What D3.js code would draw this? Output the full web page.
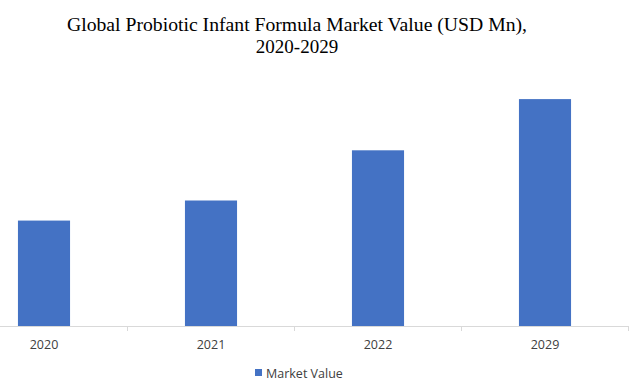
<!DOCTYPE html>
<html>
<head>
<meta charset="utf-8">
<script src="https://cdn.jsdelivr.net/npm/d3@7"></script>
<style>
  html, body { margin: 0; padding: 0; background: #ffffff; }
  svg { display: block; }
</style>
</head>
<body>
<svg id="chart" width="642" height="390"></svg>
<script>
const titleLines = ["Global Probiotic Infant Formula Market Value (USD Mn),", "2020-2029"];
const categories = ["2020", "2021", "2022", "2029"];
const seriesName = "Market Value";
const values = [105, 125, 175, 226];

const W = 642, H = 390;
const svg = d3.select("#chart");
const barColor = "#4472C4";
const textColor = "#404040";

// Title
svg.append("text")
  .attr("x", 297).attr("y", 31)
  .attr("text-anchor", "middle")
  .attr("font-family", "'Liberation Serif', 'DejaVu Serif', serif")
  .attr("font-size", 19)
  .attr("fill", "#000")
  .attr("textLength", 460)
  .attr("lengthAdjust", "spacingAndGlyphs")
  .text(titleLines[0]);
svg.append("text")
  .attr("x", 297).attr("y", 53)
  .attr("text-anchor", "middle")
  .attr("font-family", "'Liberation Serif', 'DejaVu Serif', serif")
  .attr("font-size", 19)
  .attr("fill", "#000")
  .text(titleLines[1]);

// Scales
const x0 = -39.5, x1 = 628.5;
const xStep = d3.scaleBand().domain(categories).range([x0, x1]).padding(0);
const xBar = d3.scaleBand().domain(categories).range([x0, x1])
  .paddingInner(0.688).paddingOuter(0.344);
const baseY = 326;
const y = d3.scaleLinear().domain([0, 250]).range([baseY, 75]);

// Bars
svg.append("g").selectAll("rect")
  .data(values)
  .join("rect")
  .attr("x", (d, i) => xBar(categories[i]))
  .attr("width", xBar.bandwidth())
  .attr("y", d => y(d))
  .attr("height", d => baseY - y(d))
  .attr("fill", barColor);

// Axis line and ticks
const axisG = svg.append("g");
axisG.append("line")
  .attr("x1", 0).attr("x2", x1)
  .attr("y1", baseY + 0.5).attr("y2", baseY + 0.5)
  .attr("stroke", "#d9d9d9").attr("stroke-width", 1);
axisG.selectAll("line.tick")
  .data(categories)
  .join("line")
  .attr("class", "tick")
  .attr("x1", d => Math.round(xStep(d) + xStep.bandwidth()) - 0.5)
  .attr("x2", d => Math.round(xStep(d) + xStep.bandwidth()) - 0.5)
  .attr("y1", baseY).attr("y2", baseY + 5)
  .attr("stroke", "#d9d9d9").attr("stroke-width", 1);

// Category labels
axisG.selectAll("text")
  .data(categories)
  .join("text")
  .attr("x", d => xStep(d) + xStep.bandwidth() / 2)
  .attr("y", 349)
  .attr("text-anchor", "middle")
  .attr("font-family", "'Open Sans', 'Noto Sans', sans-serif")
  .attr("font-size", 12.5)
  .attr("fill", textColor)
  .text(d => d);

// Legend
const lg = svg.append("g");
lg.append("rect")
  .attr("x", 255).attr("y", 369).attr("width", 7).attr("height", 7)
  .attr("fill", barColor);
lg.append("text")
  .attr("x", 266).attr("y", 378)
  .attr("font-family", "'Open Sans', 'Noto Sans', sans-serif")
  .attr("font-size", 12.5)
  .attr("fill", textColor)
  .text(seriesName);
</script>
</body>
</html>
